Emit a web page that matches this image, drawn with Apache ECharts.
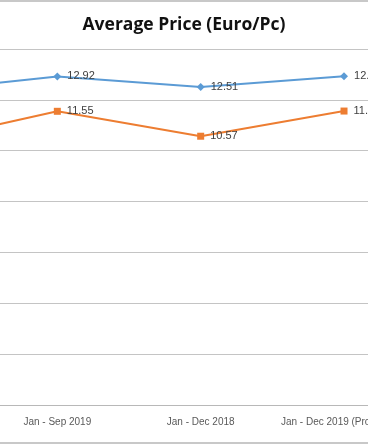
<!DOCTYPE html>
<html>
<head>
<meta charset="utf-8">
<script src="https://cdn.jsdelivr.net/npm/echarts@6/dist/echarts.min.js"></script>
<style>
html,body{margin:0;padding:0;background:#fff;overflow:hidden;}
#wrap{position:relative;width:368px;height:445px;overflow:hidden;}
#c{position:absolute;left:-158px;top:0;width:574px;height:445px;}
</style>
</head>
<body>
<div id="wrap"><div id="c"></div></div>
<script>
var categories = ['Jan - Sep 2018', 'Jan - Sep 2019', 'Jan - Dec 2018', 'Jan - Dec 2019 (Provisional)'];
var seriesNames = ['Average Price A', 'Average Price B'];
var blueValues = [12.32, 12.92, 12.51, 12.93];
var orangeValues = [10.29, 11.55, 10.57, 11.56];
var yMin = 0, yMax = 14, yInterval = 2;

var OFF = 158; // inner chart is shifted left by this many px
var chart = echarts.init(document.getElementById('c'), null, {renderer: 'canvas'});
var labelStyle = {show: true, position: 'right', distance: 6, fontSize: 11, color: '#404040', fontFamily: 'Liberation Sans, Arial, sans-serif'};
chart.setOption({
  animation: false,
  backgroundColor: '#fff',
  graphic: [
    {type: 'rect', shape: {x: 0, y: 0, width: 574, height: 2}, style: {fill: '#c8c8c8'}},
    {type: 'rect', shape: {x: 0, y: 442, width: 574, height: 2}, style: {fill: '#c8c8c8'}},
    {type: 'text', x: OFF + 184, y: 25, style: {text: 'Average Price (Euro/Pc)', x: 0, y: 0, align: 'center', verticalAlign: 'middle', fill: '#111', font: 'bold 17.5px "Open Sans", "Liberation Sans", sans-serif'}}
  ],
  grid: {left: 0.3, right: 0.3, top: 49, bottom: 40},
  xAxis: {
    type: 'category',
    data: categories,
    boundaryGap: true,
    axisLine: {lineStyle: {color: '#b8b8b8', width: 1}},
    axisTick: {show: false},
    axisLabel: {interval: 0, margin: 12, fontSize: 10, color: '#595959', fontFamily: 'Liberation Sans, Arial, sans-serif'}
  },
  yAxis: {
    type: 'value',
    min: yMin, max: yMax, interval: yInterval,
    axisLabel: {show: false},
    axisLine: {show: false},
    axisTick: {show: false},
    splitLine: {lineStyle: {color: '#c4c4c4', width: 1}}
  },
  series: [
    {
      name: seriesNames[0], type: 'line', data: blueValues,
      symbol: 'diamond', symbolSize: 8,
      lineStyle: {color: '#5B9BD5', width: 2},
      itemStyle: {color: '#5B9BD5'},
      label: labelStyle
    },
    {
      name: seriesNames[1], type: 'line', data: orangeValues,
      symbol: 'rect', symbolSize: 7,
      lineStyle: {color: '#ED7D31', width: 2},
      itemStyle: {color: '#ED7D31'},
      label: labelStyle
    }
  ]
});
</script>
</body>
</html>
